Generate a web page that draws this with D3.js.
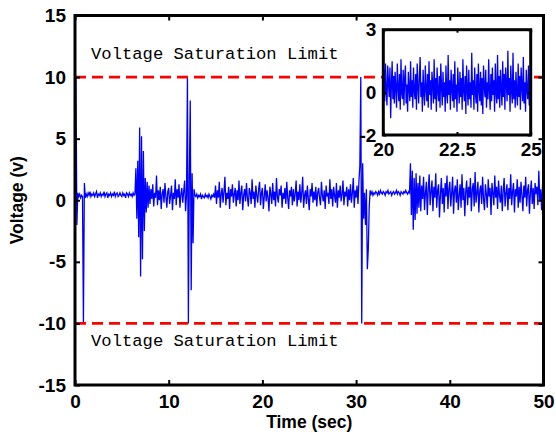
<!DOCTYPE html>
<html><head><meta charset="utf-8">
<script src="https://cdn.jsdelivr.net/npm/d3@7"></script>
<style>
html,body{margin:0;padding:0;background:#fff;}
svg{display:block;}
</style>
</head><body>
<script>
// ---- data ----
const mainT0 = 0, mainDt = 0.1;
const mainValues = [
 0.5,10,-2.0,0.6,0.3,0.5,0.2,0.4,0.3,-10,
 1.4,0.2,0.5,0.3,0.6,0.4,0.7,0.3,0.5,0.4,
 0.6,0.3,0.5,0.7,0.2,0.5,0.4,0.6,0.3,0.5,
 0.4,0.7,0.3,0.5,0.6,0.2,0.5,0.4,0.6,0.3,
 0.5,0.4,0.7,0.3,0.5,0.6,0.3,0.4,0.6,0.4,
 0.3,0.6,0.4,0.5,0.2,0.6,0.5,0.3,0.6,0.4,
 0.5,0.3,0.6,0.4,0.5,2.6,-1.5,3.2,-3.0,5.9,
 -6.2,5.2,-4.8,4.0,-2.5,1.8,-1.0,1.5,-0.6,1.2,
 -0.3,0.9,0.1,1.3,-0.5,0.6,0.2,2.0,-0.4,0.8,
 0.0,1.1,-0.7,0.5,0.9,-0.2,1.4,0.3,-0.6,0.7,
 1.0,-0.3,0.4,1.2,-0.8,0.6,0.1,1.7,-0.4,0.9,
 0.2,1.3,-0.6,0.5,1.0,-0.2,0.7,1.6,-0.9,0.4,
 10,-10,1.8,8.1,-7.3,2.2,-3.5,0.9,0.4,0.3,
 0.5,0.2,0.4,0.3,0.5,0.1,0.4,0.3,0.2,0.5,
 0.3,0.4,0.2,0.5,0.3,0.1,0.4,0.3,0.5,0.2,
 1.2,-0.3,0.8,0.2,1.5,-0.6,0.5,1.0,-0.2,0.7,
 1.9,-0.4,0.6,0.1,1.1,-0.7,0.9,0.3,1.3,-0.2,
 0.5,1.0,-0.5,0.8,0.0,1.6,-0.3,0.6,1.2,-0.8,
 0.4,0.9,-0.1,1.4,0.2,-0.5,1.0,0.6,-0.3,1.7,
 0.1,0.7,-0.6,1.2,0.4,-0.2,0.9,1.5,-0.4,0.6,
 1.0,-0.7,0.3,1.3,-0.1,0.8,0.2,-0.9,1.1,0.5,
 -0.3,1.4,0.0,0.7,-0.5,1.8,0.3,-0.2,0.9,0.4,
 1.2,-0.6,0.6,0.1,1.0,-0.3,1.5,0.2,-0.7,0.8,
 0.3,1.1,-0.4,0.9,-0.1,0.5,1.6,-0.5,0.7,0.0,
 1.3,-0.2,0.6,1.9,-0.6,0.4,0.8,-0.3,1.2,0.1,
 -0.8,0.9,0.3,1.4,-0.2,0.7,0.0,1.1,-0.5,0.6,
 1.0,0.2,-0.4,1.5,0.4,-0.1,0.8,-0.7,1.2,0.3,
 0.6,-0.3,1.7,0.1,0.9,-0.5,1.1,0.4,-0.2,1.4,
 -0.6,0.8,0.2,1.2,-0.1,0.5,1.6,-0.4,0.7,0.3,
 1.1,-0.5,0.9,0.0,1.3,-0.2,0.6,1.8,-0.6,0.8,
 0.2,1.2,-0.3,1.5,2.8,10,-10,3.0,-1.5,0.6,
 -2.0,0.9,-5.6,-4.0,-0.5,0.8,0.5,0.7,0.4,0.6,
 0.5,0.7,0.6,0.4,0.7,0.5,0.8,0.6,0.5,0.7,
 0.6,0.4,0.7,0.6,0.8,0.5,0.6,0.7,0.4,0.6,
 0.7,0.5,0.6,0.8,0.5,0.7,0.6,0.4,0.7,0.6,
 0.5,0.7,0.6,0.8,0.6,0.5,0.7,0.6,3.0,-1.2,
 2.4,-2.4,1.8,-1.6,2.2,-1.1,1.4,-0.6,2.0,-0.9,
 1.2,0.1,1.9,-0.8,0.6,1.5,-1.2,0.9,2.1,-0.4,
 0.7,1.6,-0.9,1.1,0.2,2.2,-0.6,0.8,1.3,-1.4,
 0.5,1.8,-0.3,1.0,-1.0,1.4,0.3,2.0,-0.7,0.9,
 1.5,-0.5,0.6,1.9,-1.1,0.8,1.2,-0.2,1.7,-0.8,
 0.4,1.3,-0.6,2.1,0.0,1.0,-1.3,0.7,1.6,-0.4,
 1.1,0.2,1.8,-0.9,0.9,1.4,-0.5,2.3,-0.2,0.6,
 1.5,-1.0,0.8,1.2,-0.3,1.9,0.1,-0.8,1.3,0.5,
 -0.6,1.7,0.3,1.0,-1.2,1.4,0.6,-0.4,2.0,0.2,
 1.1,-0.7,1.6,0.4,-0.2,1.2,-0.9,0.8,1.8,-0.5,
 0.6,1.3,-0.8,1.0,0.1,2.1,-0.4,0.7,1.4,-1.0,
 0.9,0.3,1.7,-0.6,1.1,-0.2,1.5,0.4,-0.9,1.2,
 0.2,1.9,-0.5,0.8,1.3,-1.1,0.6,1.6,-0.3,1.0,
 -0.7,1.4,0.5,1.1,-0.4,2.4,0.0,0.9,-0.8,1.3,
 0.7
];
const insetT0 = 20, insetDt = 0.025;
const insetValues = [
 0.2,1.1,-0.4,1.4,0.1,-0.6,1.3,0.5,-0.2,1.2,
 -1.2,0.4,1.5,-0.3,0.8,-0.5,1.0,0.2,-0.7,1.4,
 0.3,-0.4,0.9,-0.8,1.6,0.0,-0.3,1.1,-0.6,0.7,
 1.3,-0.5,0.4,-0.9,1.0,0.2,-0.4,1.5,-0.2,0.6,
 -0.7,1.2,0.1,-0.3,0.9,-0.8,1.4,0.3,-0.5,0.8,
 1.7,-0.2,0.5,-0.9,1.1,0.0,-0.6,1.3,0.2,-0.4,
 0.9,-0.7,1.5,-0.1,0.6,-0.8,1.0,0.4,-0.5,1.6,
 -0.3,0.7,-0.9,1.2,0.1,-0.4,0.8,-0.7,1.4,0.3,
 -0.6,1.0,-0.2,0.5,-0.9,1.3,0.0,-0.5,1.8,-0.1,
 0.6,-0.8,1.1,0.2,-0.4,0.9,-0.7,1.5,-0.3,0.4,
 -0.9,1.2,0.3,-0.5,1.0,-0.2,0.7,-0.8,1.6,0.1,
 -0.4,0.8,-1.0,1.3,0.2,-0.6,1.1,-0.3,0.5,-0.7,
 1.9,-0.1,0.6,-0.8,1.2,0.0,-0.5,0.9,-0.9,1.4,
 0.2,-0.4,1.0,-0.6,0.7,-1.0,1.3,0.3,-0.2,1.1,
 -0.7,0.5,-0.3,1.6,0.1,-0.8,0.9,-0.4,1.2,-0.1,
 0.6,-0.9,1.4,0.0,-0.5,1.8,-0.3,0.8,-0.7,1.1,
 0.2,-0.6,1.5,-0.2,0.9,-0.8,1.2,0.4,-0.4,2.0,
 -0.1,0.7,-0.9,1.3,0.1,-0.5,1.9,-0.3,0.6,-0.7,
 1.0,0.0,-0.6,1.4,-0.2,0.8,-0.8,1.2,0.3,-0.4,
 1.7,-0.5,0.5,-0.9,1.1,0.1,-0.3,1.3,-0.6,0.4,
 1.5
];
const limitValues = [10, -10];
const limitLabel = "Voltage Saturation Limit";
const mainXTicks = [0, 10, 20, 30, 40, 50];
const mainYTicks = [-15, -10, -5, 0, 5, 10, 15];
const insetXTicks = [20, 22.5, 25];
const insetYTicks = [-2, 0, 3];
const xLabel = "Time (sec)";
const yLabel = "Voltage (v)";

// ---- drawing ----
const W = 556, H = 435;
const svg = d3.select("body").append("svg").attr("width", W).attr("height", H);
const fmt = d => (d < 0 ? "-" : "") + Math.abs(d);

const x = d3.scaleLinear().domain([0, 50]).range([75, 543.5]);
const y = d3.scaleLinear().domain([-15, 15]).range([385, 15.5]);

svg.append("defs").append("clipPath").attr("id", "clipMain")
  .append("rect").attr("x", 75).attr("y", 15.5).attr("width", 468.5).attr("height", 369.5);

const mainData = mainValues.map((v, i) => [mainT0 + i * mainDt, v]);
const line = d3.line().x(d => x(d[0])).y(d => y(d[1]));

svg.append("path").datum(mainData).attr("d", line)
  .attr("clip-path", "url(#clipMain)")
  .attr("fill", "none").attr("stroke", "#0000ff").attr("stroke-width", 1.3)
  .attr("stroke-linejoin", "miter");

svg.selectAll(".limit").data(limitValues).enter().append("line")
  .attr("x1", x(0)).attr("x2", x(50)).attr("y1", d => y(d)).attr("y2", d => y(d))
  .attr("stroke", "#ff0000").attr("stroke-width", 2.8).attr("stroke-dasharray", "11,6");

// text labels
svg.append("text").attr("x", 91).attr("y", y(10) - 18.5)
  .attr("font-family", "Liberation Mono, Courier New, monospace").attr("font-size", 17.2)
  .attr("fill", "#000").text(limitLabel);
svg.append("text").attr("x", 91).attr("y", y(-10) + 22.5)
  .attr("font-family", "Liberation Mono, Courier New, monospace").attr("font-size", 17.2)
  .attr("fill", "#000").text(limitLabel);

// main axes
function styleAxis(g) {
  g.select(".domain").remove();
  g.selectAll(".tick line").attr("stroke", "#000").attr("stroke-width", 2);
  g.selectAll(".tick text").attr("font-family", "Liberation Sans, Arial, sans-serif")
    .attr("font-weight", "bold").attr("font-size", 19).attr("fill", "#000");
}
const tickLen = 5;
svg.append("g").attr("transform", "translate(0,385)")
  .call(d3.axisBottom(x).tickValues(mainXTicks).tickFormat(fmt).tickSizeInner(-tickLen).tickSizeOuter(0).tickPadding(10))
  .call(styleAxis);
svg.append("g").attr("transform", "translate(0,15.5)")
  .call(d3.axisTop(x).tickValues(mainXTicks).tickFormat("").tickSizeInner(-tickLen).tickSizeOuter(0))
  .call(styleAxis);
svg.append("g").attr("transform", "translate(75,0)")
  .call(d3.axisLeft(y).tickValues(mainYTicks).tickFormat(fmt).tickSizeInner(-tickLen).tickSizeOuter(0).tickPadding(9))
  .call(styleAxis);
svg.append("g").attr("transform", "translate(543.5,0)")
  .call(d3.axisRight(y).tickValues(mainYTicks).tickFormat("").tickSizeInner(-tickLen).tickSizeOuter(0))
  .call(styleAxis);
svg.append("rect").attr("x", 75).attr("y", 15.5).attr("width", 468.5).attr("height", 369.5)
  .attr("fill", "none").attr("stroke", "#000").attr("stroke-width", 3);

svg.append("text").attr("x", (75 + 543.5) / 2).attr("y", 428).attr("text-anchor", "middle")
  .attr("font-family", "Liberation Sans, Arial, sans-serif").attr("font-weight", "bold")
  .attr("font-size", 17.5).text(xLabel);
svg.append("text").attr("transform", "translate(23," + y(0) + ") rotate(-90)").attr("text-anchor", "middle")
  .attr("font-family", "Liberation Sans, Arial, sans-serif").attr("font-weight", "bold")
  .attr("font-size", 17.5).text(yLabel);

// inset axes
const ix = d3.scaleLinear().domain([20, 25]).range([383.3, 530.7]);
const iy = d3.scaleLinear().domain([-2, 3]).range([135, 29.7]);
svg.append("rect").attr("x", 383.3).attr("y", 29.7).attr("width", 147.4).attr("height", 105.3)
  .attr("fill", "#fff");
svg.append("defs").append("clipPath").attr("id", "clipInset")
  .append("rect").attr("x", 383.3).attr("y", 29.7).attr("width", 147.4).attr("height", 105.3);
const insetData = insetValues.map((v, i) => [insetT0 + i * insetDt, v]);
const iline = d3.line().x(d => ix(d[0])).y(d => iy(d[1]));
svg.append("path").datum(insetData).attr("d", iline).attr("clip-path", "url(#clipInset)")
  .attr("fill", "none").attr("stroke", "#0000ff").attr("stroke-width", 1.3);

const itl = 3;
svg.append("g").attr("transform", "translate(0,135)")
  .call(d3.axisBottom(ix).tickValues(insetXTicks).tickFormat(d => d).tickSizeInner(-itl).tickSizeOuter(0).tickPadding(8))
  .call(styleAxis);
svg.append("g").attr("transform", "translate(0,29.7)")
  .call(d3.axisTop(ix).tickValues(insetXTicks).tickFormat("").tickSizeInner(-itl).tickSizeOuter(0))
  .call(styleAxis);
svg.append("g").attr("transform", "translate(383.3,0)")
  .call(d3.axisLeft(iy).tickValues(insetYTicks).tickFormat(fmt).tickSizeInner(-itl).tickSizeOuter(0).tickPadding(7))
  .call(styleAxis);
svg.append("g").attr("transform", "translate(530.7,0)")
  .call(d3.axisRight(iy).tickValues(insetYTicks).tickFormat("").tickSizeInner(-itl).tickSizeOuter(0))
  .call(styleAxis);
svg.append("rect").attr("x", 383.3).attr("y", 29.7).attr("width", 147.4).attr("height", 105.3)
  .attr("fill", "none").attr("stroke", "#000").attr("stroke-width", 3);
</script>
</body></html>
